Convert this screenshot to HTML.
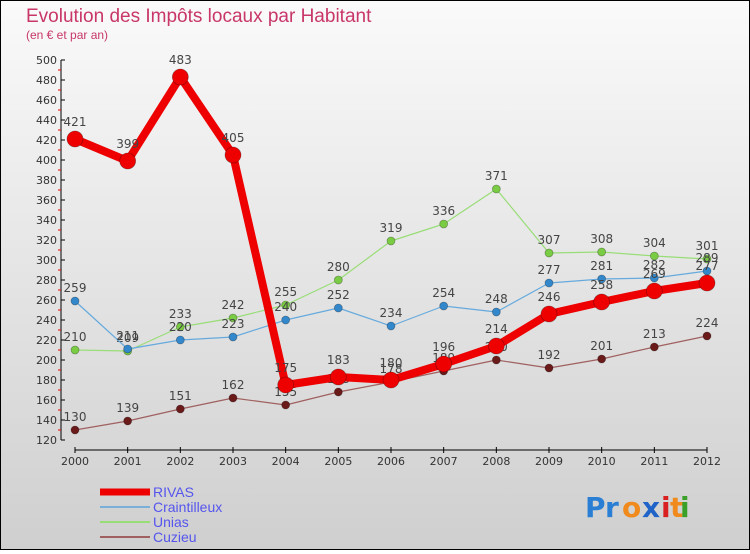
<!DOCTYPE html>
<html><head><meta charset="utf-8"><style>
html,body{margin:0;padding:0}
body{width:750px;height:550px;overflow:hidden;font-family:"DejaVu Sans","Liberation Sans",sans-serif}
</style></head><body>
<svg id="chart" width="750" height="550" xmlns="http://www.w3.org/2000/svg">
<defs><linearGradient id="bg" x1="0" y1="0" x2="0" y2="1"><stop offset="0" stop-color="#fafafa"/><stop offset="1" stop-color="#cfcfcf"/></linearGradient></defs>
<rect x="0.5" y="0.5" width="749" height="549" fill="url(#bg)" stroke="#000"/>
<text x="26" y="22" font-size="19" fill="#c8366a" font-family="'Liberation Sans',sans-serif">Evolution des Impôts locaux par Habitant</text>
<text x="26" y="39" font-size="12" fill="#c8366a" font-family="'Liberation Sans',sans-serif">(en € et par an)</text>
<g id="axes"></g>
<g id="series"></g>
<g id="legend"></g>
<g font-size="28" font-weight="bold" font-family="'DejaVu Sans',sans-serif">
<text x="585" y="517" fill="#2a7fd4">P</text><text x="605" y="517" fill="#2a7fd4">r</text><text x="622" y="517" fill="#f08a1c">o</text><text x="642" y="517" fill="#1f63c8">x</text><text x="661" y="517" fill="#d82020">i</text><text x="670" y="517" fill="#f08a1c">t</text><text x="680" y="517" fill="#3aa02a">i</text>
</g>
</svg>
<script>
const years=["2000","2001","2002","2003","2004","2005","2006","2007","2008","2009","2010","2011","2012"];
const rivas=[421,399,483,405,175,183,180,196,214,246,258,269,277];
const craintilleux=[259,211,220,223,240,252,234,254,248,277,281,282,289];
const unias=[210,209,233,242,255,280,319,336,371,307,308,304,301];
const cuzieu=[130,139,151,162,155,168,178,189,200,192,201,213,224];
const yTicks=[120,140,160,180,200,220,240,260,280,300,320,340,360,380,400,420,440,460,480,500];
const NS="http://www.w3.org/2000/svg";
const x=i=>75+i*(707-75)/(years.length-1);
const y=v=>440-(v-120)*(380/380);
function mk(t,a,p){const e=document.createElementNS(NS,t);for(const k in a)e.setAttribute(k,a[k]);p.appendChild(e);return e;}
const ax=document.getElementById('axes');
let l=mk('line',{x1:61,y1:60,x2:61,y2:440,stroke:'#000'},ax);


yTicks.forEach((v,i)=>{
 mk('line',{x1:61,y1:y(v),x2:65,y2:y(v),stroke:'#000'},ax);
 if(i<yTicks.length-1) mk('line',{x1:58,y1:y(v+10),x2:61,y2:y(v+10),stroke:'#e00'},ax);
 const t=mk('text',{x:57,y:y(v)+4,'text-anchor':'end','font-size':11,fill:'#333'},ax);t.textContent=v;
 
 
});
l=mk('line',{x1:75,y1:450,x2:707,y2:450,stroke:'#000'},ax);


years.forEach((yr,i)=>{
 mk('line',{x1:x(i),y1:447,x2:x(i),y2:453,stroke:'#000'},ax);
 const t=mk('text',{x:x(i),y:465,'text-anchor':'middle','font-size':11,fill:'#333'},ax);t.textContent=yr;
 
 
});
const S=[
 {n:'cuzieu',d:cuzieu,c:'#6b1a1a',w:1.2,r:4,lc:'#a06060'},
 {n:'unias',d:unias,c:'#7acc44',w:1.2,r:4,lc:'#99dd77'},
 {n:'craintilleux',d:craintilleux,c:'#3388cc',w:1.2,r:4,lc:'#66aadd'},
 {n:'rivas',d:rivas,c:'#ee0000',w:8,r:8,lc:'#ee0000'}];
const sg=document.getElementById('series');
S.forEach(s=>{
 const g=mk('g',{},sg);
 
 
 const p=mk('polyline',{points:s.d.map((v,i)=>x(i)+','+y(v)).join(' '),fill:'none',stroke:s.lc,'stroke-width':s.w,'stroke-linejoin':'round'},g);
 
 
 s.d.forEach((v,i)=>{
  const c=mk('circle',{cx:x(i),cy:y(v),r:s.r,fill:s.c,stroke:'rgba(0,0,0,0.3)','stroke-width':0.8},g);
  
  
  const t=mk('text',{x:x(i),y:y(v)-9-(s.n==='rivas'?4:0),'text-anchor':'middle','font-size':12,fill:'#444'},g);
  t.textContent=v;
  
  
 });
});
const lg=document.getElementById('legend');
const L=[['RIVAS','#ee0000',7],['Craintilleux','#7ab0d8',2],['Unias','#99dd77',2],['Cuzieu','#a06060',2]];
L.forEach((e,i)=>{
 const yy=492+i*15;
 const g=mk('g',{},lg);
 
 
 mk('line',{x1:100,y1:yy,x2:150,y2:yy,stroke:e[1],'stroke-width':e[2]},g);
 const t=mk('text',{x:153,y:yy+5,'font-size':14,fill:'#5555ee','font-family':"'Liberation Sans',sans-serif"},g);t.textContent=e[0];
});
</script>
</body></html>
